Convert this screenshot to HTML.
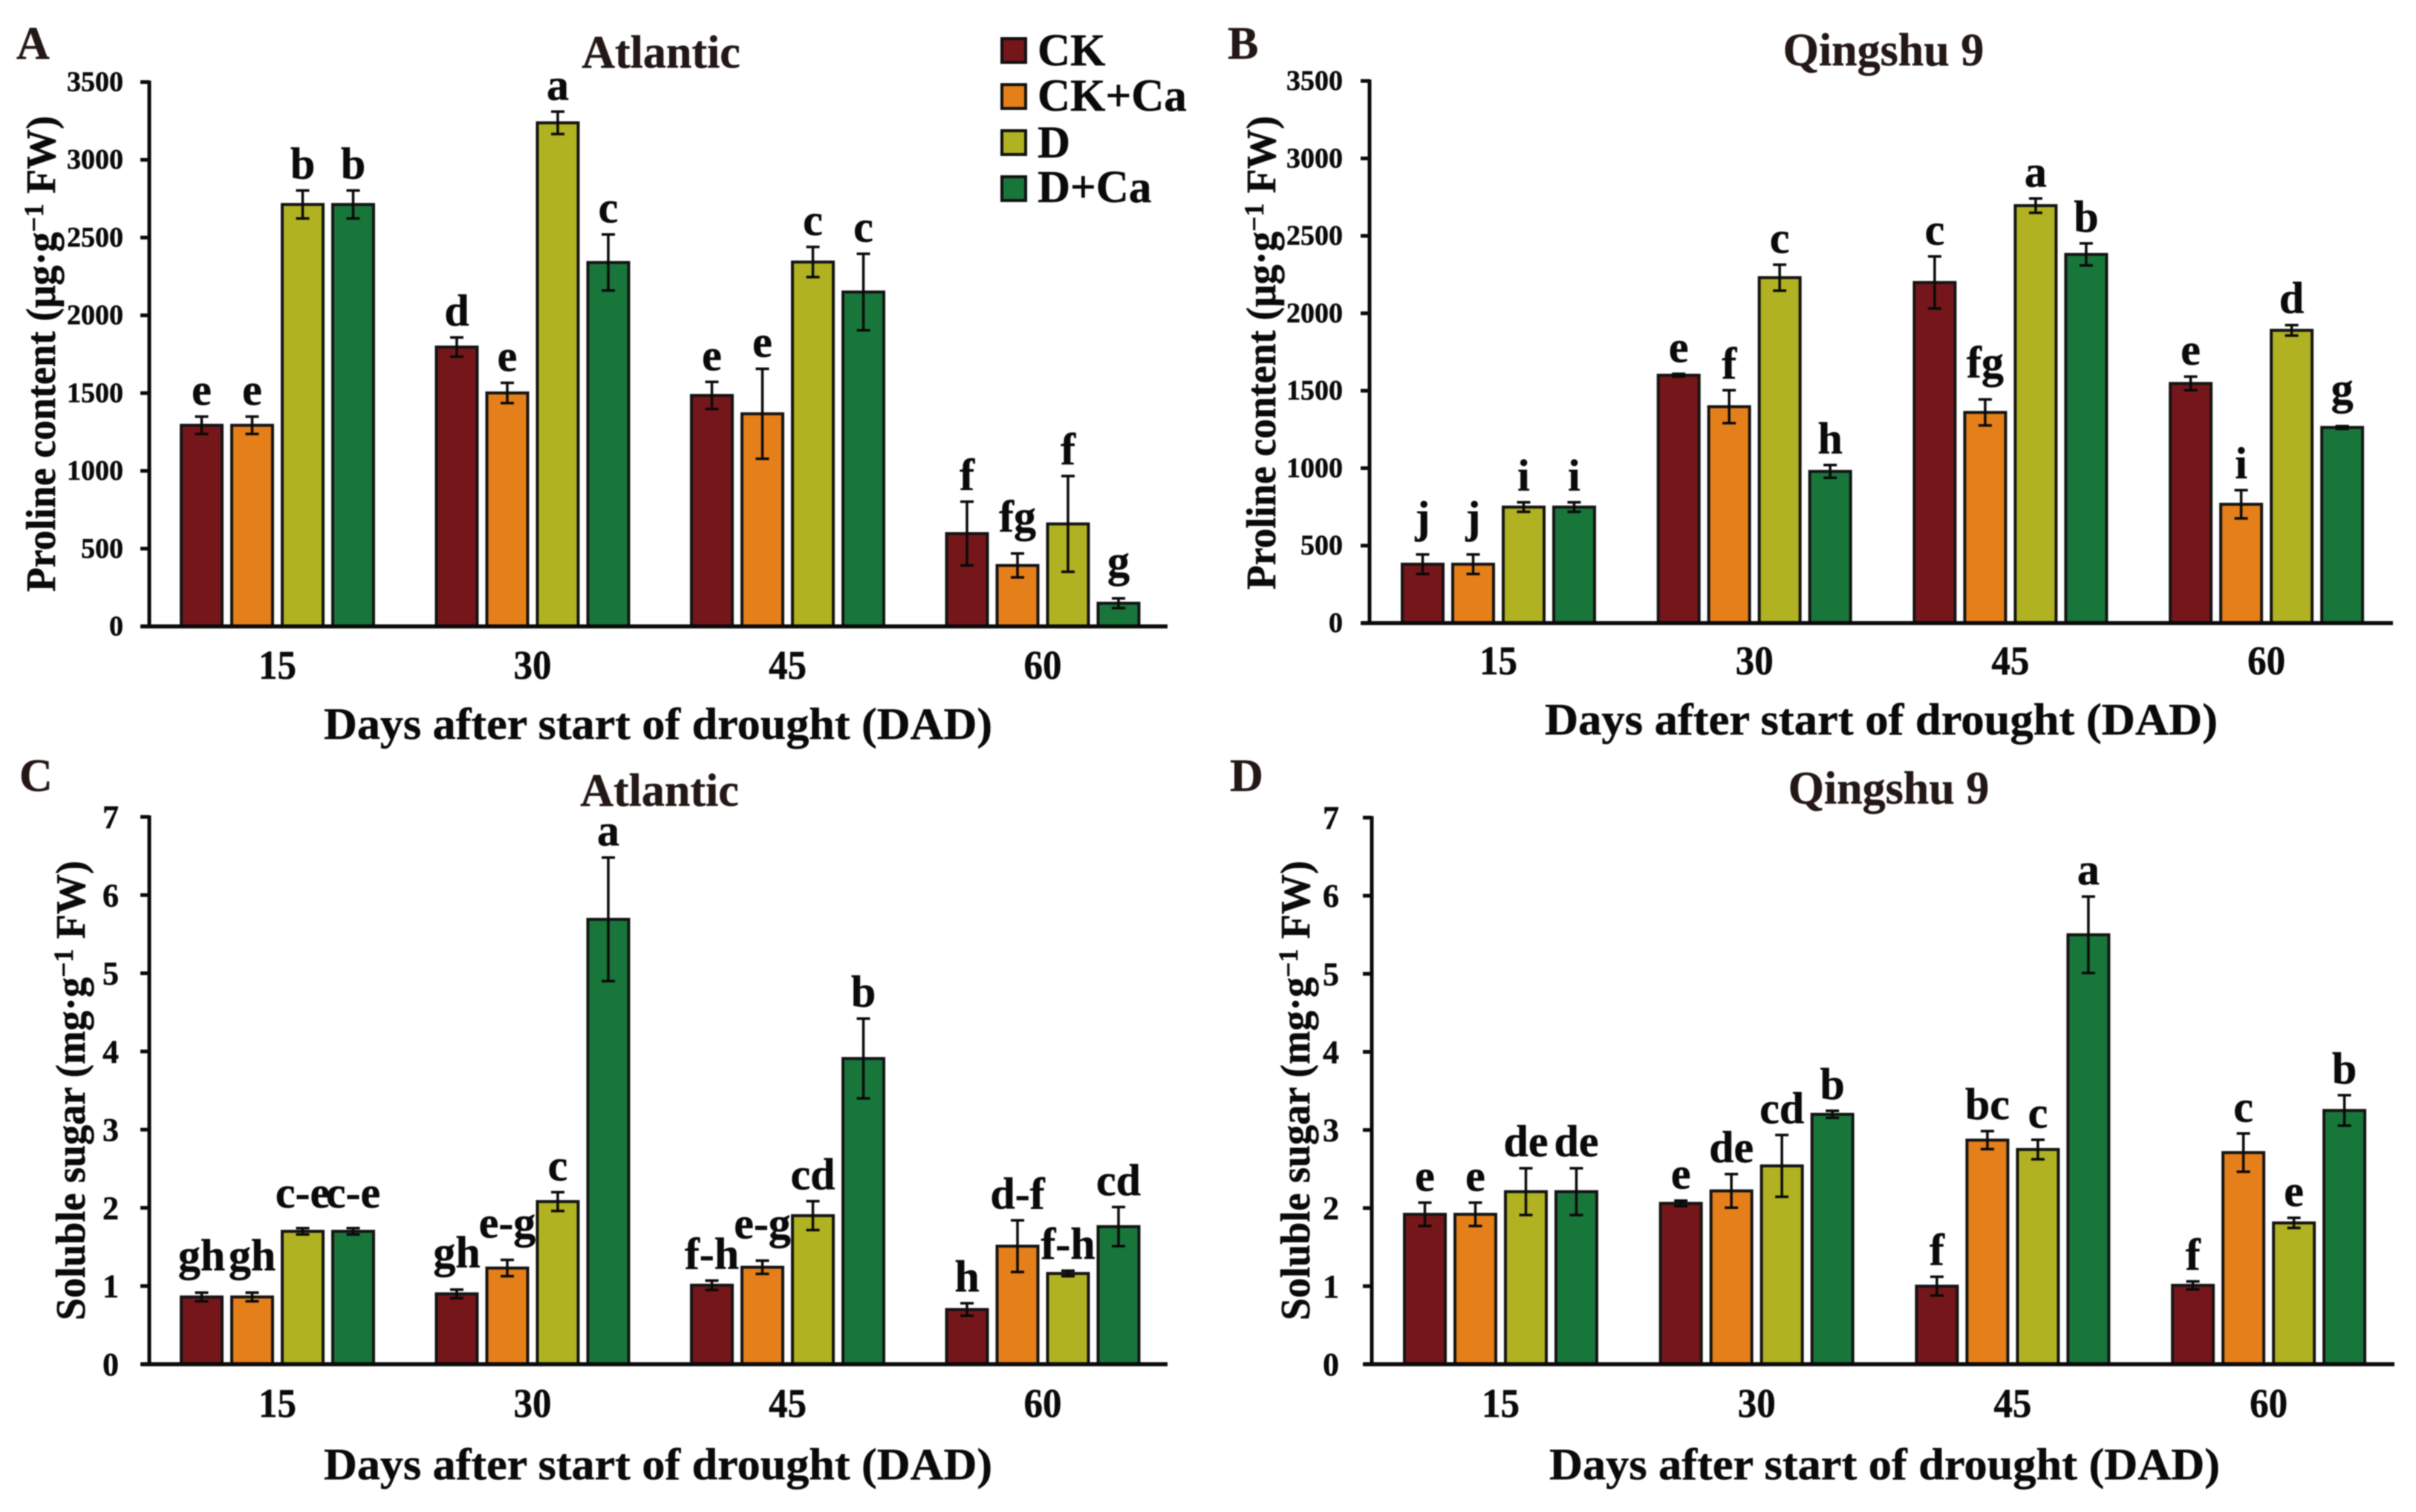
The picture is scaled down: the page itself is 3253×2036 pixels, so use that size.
<!DOCTYPE html>
<html lang="en">
<head>
<meta charset="utf-8">
<title>Proline and soluble sugar content under drought</title>
<style>
html,body{margin:0;padding:0;background:#fff;}
svg{display:block;filter:blur(0.7px);}
text{font-family:"Liberation Serif",serif;font-weight:bold;fill:#0a0a0a;stroke:#0a0a0a;stroke-width:0.5px;}
.panel-letter,.panel-title{fill:#231815;stroke:#231815;}
</style>
</head>
<body>
<svg id="figure" xmlns="http://www.w3.org/2000/svg" width="3253" height="2036" viewBox="0 0 3253 2036">
  <rect x="0" y="0" width="3253" height="2036" fill="#ffffff"/>
  <text class="panel-letter" x="22" y="79" font-size="62">A</text>
  <text class="panel-letter" x="1653" y="79" font-size="62">B</text>
  <text class="panel-letter" x="26" y="1065" font-size="62">C</text>
  <text class="panel-letter" x="1656" y="1065" font-size="62">D</text>

  <g>
    <g>
      <rect x="1349" y="52" width="32" height="32" fill="#75161a" stroke="#111" stroke-width="4"/>
      <text x="1397" y="88" font-size="61">CK</text>
    </g>
    <g>
      <rect x="1349" y="114" width="32" height="32" fill="#e57f1a" stroke="#111" stroke-width="4"/>
      <text x="1397" y="149" font-size="61">CK+Ca</text>
    </g>
    <g>
      <rect x="1349" y="176" width="32" height="32" fill="#b0b222" stroke="#111" stroke-width="4"/>
      <text x="1397" y="212" font-size="61">D</text>
    </g>
    <g>
      <rect x="1349" y="238" width="32" height="32" fill="#18763a" stroke="#111" stroke-width="4"/>
      <text x="1397" y="272" font-size="61">D+Ca</text>
    </g>
  </g>

  <g id="panel-a">
    <text class="panel-title" x="890" y="91" font-size="62" text-anchor="middle">Atlantic</text>
    <text x="436" y="995" font-size="60" textLength="900" lengthAdjust="spacingAndGlyphs">Days after start of drought (DAD)</text>
    <text transform="translate(74,797) rotate(-90)" font-size="56" textLength="641" lengthAdjust="spacingAndGlyphs">Proline content (μg·g<tspan font-size="37" dy="-16">−1</tspan><tspan dy="16"> FW)</tspan></text>
  </g>
  <g id="panel-b">
    <text class="panel-title" x="2536" y="88" font-size="62" text-anchor="middle">Qingshu 9</text>
    <text x="2080" y="989" font-size="60" textLength="906" lengthAdjust="spacingAndGlyphs">Days after start of drought (DAD)</text>
    <text transform="translate(1717,794) rotate(-90)" font-size="56" textLength="638" lengthAdjust="spacingAndGlyphs">Proline content (μg·g<tspan font-size="37" dy="-16">−1</tspan><tspan dy="16"> FW)</tspan></text>
  </g>
  <g id="panel-c">
    <text class="panel-title" x="888" y="1085" font-size="62" text-anchor="middle">Atlantic</text>
    <text x="436" y="1992" font-size="60" textLength="900" lengthAdjust="spacingAndGlyphs">Days after start of drought (DAD)</text>
    <text transform="translate(114,1778) rotate(-90)" font-size="56" textLength="619" lengthAdjust="spacingAndGlyphs">Soluble sugar (mg·g<tspan font-size="37" dy="-16">−1</tspan><tspan dy="16"> FW)</tspan></text>
  </g>
  <g id="panel-d">
    <text class="panel-title" x="2543" y="1082" font-size="62" text-anchor="middle">Qingshu 9</text>
    <text x="2086" y="1992" font-size="60" textLength="903" lengthAdjust="spacingAndGlyphs">Days after start of drought (DAD)</text>
    <text transform="translate(1763,1778) rotate(-90)" font-size="56" textLength="619" lengthAdjust="spacingAndGlyphs">Soluble sugar (mg·g<tspan font-size="37" dy="-16">−1</tspan><tspan dy="16"> FW)</tspan></text>
  </g>
</svg>

<script>
const categories = ['15', '30', '45', '60'];
const seriesNames = ['CK', 'CK+Ca', 'D', 'D+Ca'];
const seriesColors = ['#75161a', '#e57f1a', '#b0b222', '#18763a'];
const prolineTicks = [0, 500, 1000, 1500, 2000, 2500, 3000, 3500];
const sugarTicks = [0, 1, 2, 3, 4, 5, 6, 7];

const atlanticProlineValues = [
  [1293, 1293, 2713, 2713],
  [1796, 1501, 3238, 2340],
  [1485, 1367, 2343, 2150],
  [597, 392, 659, 149]
];
const atlanticProlineErrors = [
  [56, 56, 90, 90],
  [62, 65, 72, 180],
  [87, 289, 97, 246],
  [205, 77, 308, 31]
];
const atlanticProlineLabels = [
  ['e', 'e', 'b', 'b'],
  ['d', 'e', 'a', 'c'],
  ['e', 'e', 'c', 'c'],
  ['f', 'fg', 'f', 'g']
];

const qingshuProlineValues = [
  [380, 380, 749, 749],
  [1600, 1397, 2230, 979],
  [2199, 1360, 2695, 2380],
  [1547, 767, 1890, 1263]
];
const qingshuProlineErrors = [
  [63, 63, 31, 31],
  [9, 106, 84, 41],
  [168, 84, 46, 71],
  [44, 91, 34, 9]
];
const qingshuProlineLabels = [
  ['j', 'j', 'i', 'i'],
  ['e', 'f', 'c', 'h'],
  ['c', 'fg', 'a', 'b'],
  ['e', 'i', 'd', 'g']
];

const atlanticSugarValues = [
  [0.86, 0.86, 1.70, 1.70],
  [0.90, 1.23, 2.08, 5.69],
  [1.01, 1.24, 1.90, 3.91],
  [0.70, 1.51, 1.16, 1.76]
];
const atlanticSugarErrors = [
  [0.055, 0.055, 0.04, 0.04],
  [0.055, 0.105, 0.12, 0.79],
  [0.06, 0.085, 0.185, 0.51],
  [0.08, 0.33, 0.035, 0.25]
];
const atlanticSugarLabels = [
  ['gh', 'gh', 'c-e', 'c-e'],
  ['gh', 'e-g', 'c', 'a'],
  ['f-h', 'e-g', 'cd', 'b'],
  ['h', 'd-f', 'f-h', 'cd']
];

const qingshuSugarValues = [
  [1.92, 1.92, 2.21, 2.21],
  [2.06, 2.22, 2.54, 3.20],
  [1.00, 2.87, 2.75, 5.50],
  [1.01, 2.71, 1.81, 3.25]
];
const qingshuSugarErrors = [
  [0.15, 0.15, 0.30, 0.30],
  [0.035, 0.215, 0.395, 0.045],
  [0.12, 0.115, 0.125, 0.49],
  [0.05, 0.245, 0.065, 0.195]
];
const qingshuSugarLabels = [
  ['e', 'e', 'de', 'de'],
  ['e', 'de', 'cd', 'b'],
  ['f', 'bc', 'c', 'a'],
  ['f', 'c', 'e', 'b']
];

const SVG_NS = 'http://www.w3.org/2000/svg';

function make(parent, tag, attrs) {
  const el = document.createElementNS(SVG_NS, tag);
  Object.keys(attrs).forEach(function (k) { el.setAttribute(k, attrs[k]); });
  parent.appendChild(el);
  return el;
}

function labelGap(label) {
  if (label === 'c-e') return 28;
  if (/[gj]/.test(label)) return 30;
  return 16;
}

function drawPanel(cfg) {
  const root = document.getElementById(cfg.id);
  const yMax = cfg.ticks[cfg.ticks.length - 1];
  const yScale = function (v) { return cfg.y0 - (v / yMax) * (cfg.y0 - cfg.yTop); };
  const barLeft = function (g, s) { return cfg.x0 + g * cfg.groupStep + s * 68; };
  const barW = 59;

  cfg.values.forEach(function (group, g) {
    group.forEach(function (v, s) {
      const left = barLeft(g, s);
      const bar = make(root, 'rect', {
        x: left + 2, y: yScale(v), width: barW - 4, height: cfg.y0 - yScale(v),
        fill: seriesColors[s], stroke: '#141414', 'stroke-width': 4
      });
      
      
    });
  });

  cfg.values.forEach(function (group, g) {
    group.forEach(function (v, s) {
      const cx = barLeft(g, s) + barW / 2;
      const err = cfg.errors[g][s];
      const hi = yScale(v + err);
      const lo = yScale(v - err);
      const eb = make(root, 'path', {
        d: 'M' + (cx - 9) + ' ' + hi + 'H' + (cx + 9) + 'M' + cx + ' ' + hi + 'V' + lo + 'M' + (cx - 9) + ' ' + lo + 'H' + (cx + 9),
        fill: 'none', stroke: '#0a0a0a', 'stroke-width': 3.5
      });
      
      

      const label = cfg.labels[g][s];
      const sig = make(root, 'text', {
        x: cx, y: hi - labelGap(label), 'font-size': 60, 'text-anchor': 'middle'
      });
      sig.textContent = label;
      
      
    });
  });

  const yAxis = make(root, 'line', {
    x1: cfg.axisX, x2: cfg.axisX, y1: cfg.yTop - 2, y2: cfg.y0, stroke: '#0a0a0a', 'stroke-width': 5
  });
  
  

  const xAxis = make(root, 'line', {
    x1: cfg.axisX - 11, x2: cfg.xEnd, y1: cfg.y0, y2: cfg.y0, stroke: '#0a0a0a', 'stroke-width': 5.5
  });
  
  

  cfg.ticks.forEach(function (t) {
    const tick = make(root, 'line', {
      x1: cfg.axisX - 12, x2: cfg.axisX, y1: yScale(t), y2: yScale(t), stroke: '#0a0a0a', 'stroke-width': 5
    });
    
    

    const tl = make(root, 'text', {
      x: cfg.tickRight, y: yScale(t) + cfg.tickDrop, 'font-size': cfg.tickSize, 'text-anchor': 'end'
    });
    tl.textContent = String(t);
    
    
  });

  categories.forEach(function (c, g) {
    const cl = make(root, 'text', {
      x: barLeft(g, 0) + (3 * 68 + barW) / 2, y: cfg.xLabelY, 'font-size': 55, 'text-anchor': 'middle',
      textLength: 51, lengthAdjust: 'spacingAndGlyphs'
    });
    cl.textContent = c;
    
    
  });
}

drawPanel({ id: 'panel-a', values: atlanticProlineValues, errors: atlanticProlineErrors, labels: atlanticProlineLabels, ticks: prolineTicks,
  y0: 843.5, yTop: 110.5, axisX: 201, xEnd: 1572, x0: 242, groupStep: 343.5, tickRight: 166, tickSize: 38, tickDrop: 12, xLabelY: 914 });
drawPanel({ id: 'panel-b', values: qingshuProlineValues, errors: qingshuProlineErrors, labels: qingshuProlineLabels, ticks: prolineTicks,
  y0: 839, yTop: 109, axisX: 1844, xEnd: 3222, x0: 1886, groupStep: 344.7, tickRight: 1808, tickSize: 38, tickDrop: 12, xLabelY: 908 });
drawPanel({ id: 'panel-c', values: atlanticSugarValues, errors: atlanticSugarErrors, labels: atlanticSugarLabels, ticks: sugarTicks,
  y0: 1837, yTop: 1100, axisX: 201, xEnd: 1572, x0: 242, groupStep: 343.5, tickRight: 160, tickSize: 44, tickDrop: 15, xLabelY: 1908 });
drawPanel({ id: 'panel-d', values: qingshuSugarValues, errors: qingshuSugarErrors, labels: qingshuSugarLabels, ticks: sugarTicks,
  y0: 1837, yTop: 1101, axisX: 1847, xEnd: 3224, x0: 1889, groupStep: 344.7, tickRight: 1803, tickSize: 44, tickDrop: 15, xLabelY: 1908 });
</script>
</body>
</html>
